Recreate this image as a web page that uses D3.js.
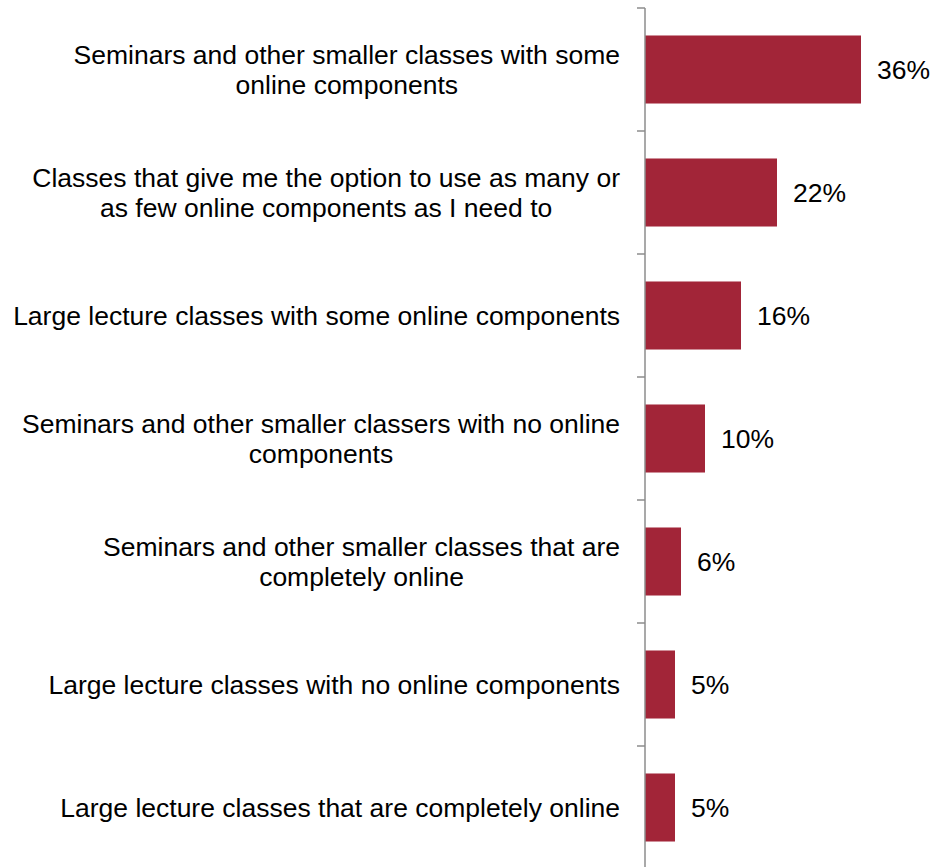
<!DOCTYPE html>
<html>
<head>
<meta charset="utf-8">
<script src="https://cdn.jsdelivr.net/npm/d3@7"></script>
<style>
  html, body { margin: 0; padding: 0; background: #fff; }
  svg { display: block; font-family: "Liberation Sans", Arial, sans-serif; }
</style>
</head>
<body>
<svg id="chart" width="933" height="867"></svg>
<script>
// Preferred class formats (share of respondents, %)
const categories = [
  ["Seminars and other smaller classes with some", "online components"],
  ["Classes that give me the option to use as many or", "as few online components as I need to"],
  ["Large lecture classes with some online components"],
  ["Seminars and other smaller classers with no online", "components"],
  ["Seminars and other smaller classes that are", "completely online"],
  ["Large lecture classes with no online components"],
  ["Large lecture classes that are completely online"]
];
const values = [36, 22, 16, 10, 6, 5, 5];
const valueLabels = ["36%", "22%", "16%", "10%", "6%", "5%", "5%"];

const svg = d3.select("#chart");
const axisX = 645;
const labelRight = 620;
const fontSize = 26.5;
const lineHeight = 30;

const keys = categories.map((c, i) => i);
const y = d3.scaleBand().domain(keys).range([8, 869]).paddingInner(0.447).paddingOuter(0.2235);
const band = d3.scaleBand().domain(keys).range([8, 869]);
const x = d3.scaleLinear().domain([0, 36]).range([axisX, 861]);

// bars
svg.selectAll("rect.bar").data(values).join("rect")
  .attr("class", "bar")
  .attr("x", x(0))
  .attr("y", (d, i) => y(i))
  .attr("width", d => x(d) - x(0))
  .attr("height", y.bandwidth())
  .attr("fill", "#A22538");

// vertical axis with boundary ticks
const axisG = svg.append("g");
axisG.append("line")
  .attr("x1", axisX).attr("x2", axisX)
  .attr("y1", band.range()[0]).attr("y2", 867)
  .attr("stroke", "#8c8c8c").attr("stroke-width", 1.5);
const tickYs = keys.map(k => band(k));
axisG.selectAll("line.tick").data(tickYs).join("line")
  .attr("class", "tick")
  .attr("x1", axisX - 8).attr("x2", axisX)
  .attr("y1", d => d).attr("y2", d => d)
  .attr("stroke", "#8c8c8c").attr("stroke-width", 1.5);

// category labels: lines centred on each other, block right-aligned
categories.forEach((lines, i) => {
  const g = svg.append("g");
  const texts = lines.map(l => g.append("text")
    .attr("font-size", fontSize).attr("fill", "#000")
    .attr("text-anchor", "middle").attr("dominant-baseline", "central").text(l));
  const maxW = d3.max(texts, t => t.node().getComputedTextLength());
  const cx = labelRight - maxW / 2;
  const cy = y(i) + y.bandwidth() / 2;
  const n = lines.length;
  texts.forEach((t, j) => {
    t.attr("x", cx).attr("y", cy + (j - (n - 1) / 2) * lineHeight);
  });
});

// value labels
svg.selectAll("text.val").data(values).join("text")
  .attr("class", "val")
  .attr("x", d => x(d) + 16)
  .attr("y", (d, i) => y(i) + y.bandwidth() / 2)
  .attr("dominant-baseline", "central")
  .attr("font-size", fontSize)
  .attr("fill", "#000")
  .text((d, i) => valueLabels[i]);
</script>
</body>
</html>
